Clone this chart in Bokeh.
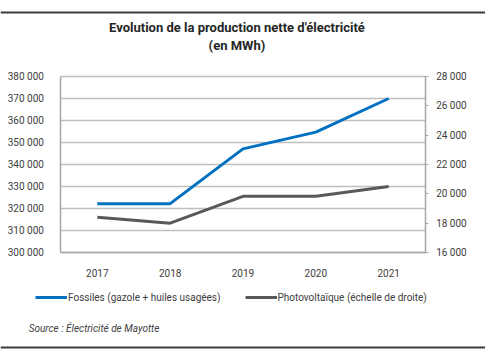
from bokeh.plotting import figure
from bokeh.models import (Range1d, LinearAxis, CategoricalAxis, FixedTicker, CustomJSTickFormatter,
                          Legend, LegendItem, Label, Span, FactorRange, Grid)
from bokeh.embed import file_html
from bokeh.resources import INLINE

years = ["2017", "2018", "2019", "2020", "2021"]
fossiles = [322200, 322200, 347100, 354700, 370000]
photovoltaique = [18400, 18000, 19830, 19830, 20500]
left_ticks = [300000, 310000, 320000, 330000, 340000, 350000, 360000, 370000, 380000]
right_ticks = [16000, 18000, 20000, 22000, 24000, 26000, 28000]

FONT = "Roboto"
TXT = "#404040"

W, H = 485, 352
# plot area (pixels) : left 60, right 422, top 76, bottom 252
PL, PR, PT, PB = 60, 422, 76, 252
LMIN, LMAX = 300000, 380000
RMIN, RMAX = 16000, 28000
lpp = (LMAX - LMIN) / (PB - PT)
rpp = (RMAX - RMIN) / (PB - PT)
upx = (PR - PL) / len(years)


def yv(py):
    return LMIN + (PB - py) * lpp


def xs(px):
    return (px - PL) / upx


p = figure(width=W, height=H,
           x_range=FactorRange(*years, range_padding=PL / upx, range_padding_units="absolute"),
           y_range=Range1d(yv(H), yv(0)),
           output_backend="svg", toolbar_location=None, title_location=None,
           x_axis_location=None, y_axis_location=None,
           min_border=0, min_border_left=0, min_border_right=0, min_border_top=0, min_border_bottom=0)
p.extra_y_ranges = {"pv": Range1d(RMIN - (H - PB) * rpp, RMIN + PB * rpp)}
p.outline_line_color = None
p.xgrid.visible = False
p.ygrid.visible = False

fmt = CustomJSTickFormatter(code="return tick.toString().replace(/\\B(?=(\\d{3})+(?!\\d))/g, ' ');")

g = Grid(dimension=1, ticker=FixedTicker(ticks=left_ticks), grid_line_color="#bfbfbf",
         grid_line_width=1.5, bounds=(LMIN, LMAX))
if "cross_bounds" in Grid.properties():
    g.cross_bounds = (0, len(years))
    p.add_layout(g)
else:
    p.segment(x0=[0] * len(left_ticks), x1=[len(years)] * len(left_ticks),
              y0=left_ticks, y1=left_ticks, line_color="#bfbfbf", line_width=1.5)


def style(ax):
    ax.axis_line_color = "#a6a6a6"
    ax.axis_line_width = 1.5
    ax.minor_tick_line_color = None
    ax.major_label_text_font = FONT
    ax.major_label_text_font_size = "10px"
    ax.major_label_text_color = TXT


la = LinearAxis(ticker=FixedTicker(ticks=left_ticks), formatter=fmt,
                fixed_location=0, bounds=(LMIN, LMAX))
style(la)
la.major_tick_line_color = None
la.major_label_standoff = 11
p.add_layout(la, "left")

ra = LinearAxis(y_range_name="pv", ticker=FixedTicker(ticks=right_ticks), formatter=fmt,
                fixed_location=len(years), bounds=(RMIN, RMAX))
style(ra)
ra.major_tick_line_color = "#a6a6a6"
ra.major_tick_out = 3
ra.major_tick_in = 0
ra.major_label_standoff = 8
p.add_layout(ra, "right")

xa = CategoricalAxis(fixed_location=LMIN, bounds=(0, len(years)))
style(xa)
xa.major_tick_line_color = None
xa.major_label_standoff = 10
p.add_layout(xa, "below")

r1 = p.line(years, fossiles, line_color="#0070c0", line_width=3)
r2 = p.line(years, photovoltaique, line_color="#595959", line_width=3, y_range_name="pv")

legend = Legend(items=[LegendItem(label="Fossiles (gazole + huiles usagées)", renderers=[r1]),
                       LegendItem(label="Photovoltaïque (échelle de droite)", renderers=[r2])],
                orientation="horizontal", location=(35, H - 307), padding=0, margin=0,
                spacing=24, label_standoff=1, glyph_width=32, glyph_height=20, label_height=20,
                label_text_font=FONT, label_text_font_size="10px", label_text_color=TXT,
                background_fill_alpha=0, border_line_color=None)
p.add_layout(legend)

p.add_layout(Label(x=xs(235), y=yv(27), text="Evolution de la production nette d'électricité",
                   text_align="center", text_baseline="middle", text_font=FONT,
                   text_font_style="bold", text_font_size="13px", text_color="#262626"))
p.add_layout(Label(x=xs(235), y=yv(45), text="(en MWh)",
                   text_align="center", text_baseline="middle", text_font=FONT,
                   text_font_style="bold", text_font_size="13px", text_color="#262626"))
p.add_layout(Label(x=xs(28), y=yv(328), text="Source : Électricité de Mayotte",
                   text_align="left", text_baseline="middle", text_font=FONT,
                   text_font_style="italic", text_font_size="10px", text_color=TXT))

for py in (12, 347):
    p.add_layout(Span(location=yv(py), dimension="width", line_color="#3a3a3a", line_width=2))

open("out.html", "w").write(file_html(p, INLINE))
